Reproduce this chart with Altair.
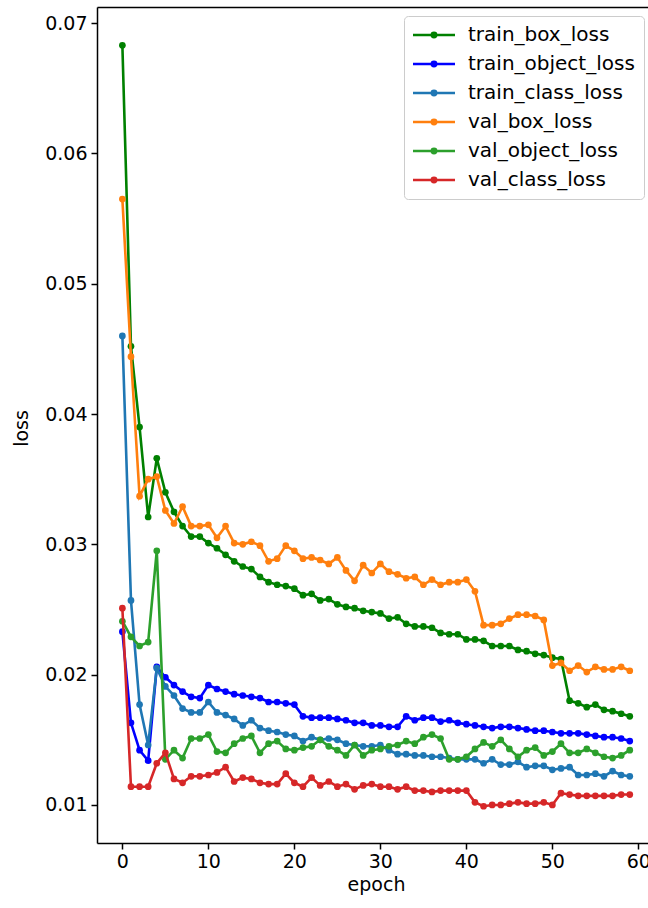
import altair as alt
import pandas as pd

epochs = list(range(60))

train_box_loss = [0.0683, 0.0452, 0.0390, 0.0321, 0.0366, 0.0340, 0.0325, 0.0314, 0.0306, 0.0306,
                  0.0301, 0.0297, 0.0292, 0.0287, 0.0283, 0.0281, 0.0275, 0.0271, 0.0269, 0.0268,
                  0.0266, 0.0261, 0.0262, 0.0257, 0.0258, 0.0254, 0.0252, 0.0251, 0.0249, 0.0248,
                  0.0247, 0.0243, 0.0244, 0.0239, 0.0237, 0.0237, 0.0236, 0.0232, 0.0231, 0.0231,
                  0.0227, 0.0227, 0.0226, 0.0222, 0.0222, 0.0222, 0.0219, 0.0218, 0.0216, 0.0215,
                  0.0213, 0.0212, 0.0180, 0.0178, 0.0175, 0.0177, 0.0173, 0.0172, 0.0170, 0.0168]

train_object_loss = [0.0233, 0.0163, 0.0142, 0.0134, 0.0206, 0.0198, 0.0192, 0.0187, 0.0183, 0.0182,
                     0.0192, 0.0189, 0.0187, 0.0185, 0.0184, 0.0183, 0.0182, 0.0179, 0.0179, 0.0178,
                     0.0177, 0.0168, 0.0167, 0.0167, 0.0167, 0.0166, 0.0165, 0.0163, 0.0163, 0.0161,
                     0.0161, 0.0160, 0.0160, 0.0168, 0.0165, 0.0167, 0.0167, 0.0164, 0.0165, 0.0163,
                     0.0162, 0.0161, 0.0160, 0.0159, 0.0160, 0.0160, 0.0159, 0.0158, 0.0157, 0.0157,
                     0.0156, 0.0155, 0.0155, 0.0155, 0.0154, 0.0153, 0.0152, 0.0152, 0.0151, 0.0149]

train_class_loss = [0.0460, 0.0257, 0.0177, 0.0146, 0.0205, 0.0191, 0.0184, 0.0174, 0.0171, 0.0171,
                    0.0179, 0.0171, 0.0169, 0.0166, 0.0161, 0.0165, 0.0159, 0.0157, 0.0156, 0.0154,
                    0.0153, 0.0149, 0.0152, 0.0150, 0.0151, 0.0150, 0.0147, 0.0146, 0.0145, 0.0145,
                    0.0146, 0.0142, 0.0139, 0.0139, 0.0138, 0.0138, 0.0137, 0.0137, 0.0136, 0.0135,
                    0.0135, 0.0135, 0.0132, 0.0135, 0.0131, 0.0131, 0.0133, 0.0129, 0.0130, 0.0130,
                    0.0127, 0.0128, 0.0129, 0.0123, 0.0123, 0.0124, 0.0122, 0.0126, 0.0123, 0.0122]

val_box_loss = [0.0565, 0.0444, 0.0337, 0.0350, 0.0352, 0.0326, 0.0316, 0.0329, 0.0314, 0.0314,
                0.0315, 0.0305, 0.0314, 0.0301, 0.0300, 0.0302, 0.0299, 0.0287, 0.0289, 0.0299,
                0.0295, 0.0289, 0.0290, 0.0288, 0.0285, 0.0290, 0.0280, 0.0272, 0.0284, 0.0278,
                0.0285, 0.0279, 0.0277, 0.0274, 0.0275, 0.0269, 0.0273, 0.0269, 0.0271, 0.0271,
                0.0273, 0.0264, 0.0238, 0.0238, 0.0239, 0.0243, 0.0246, 0.0246, 0.0245, 0.0242,
                0.0207, 0.0209, 0.0203, 0.0207, 0.0202, 0.0206, 0.0204, 0.0204, 0.0206, 0.0203]

val_object_loss = [0.0241, 0.0229, 0.0222, 0.0225, 0.0295, 0.0135, 0.0142, 0.0136, 0.0151, 0.0151,
                   0.0154, 0.0141, 0.0140, 0.0147, 0.0151, 0.0153, 0.0140, 0.0147, 0.0149, 0.0143,
                   0.0142, 0.0144, 0.0145, 0.0150, 0.0145, 0.0142, 0.0138, 0.0146, 0.0138, 0.0142,
                   0.0143, 0.0145, 0.0146, 0.0149, 0.0147, 0.0152, 0.0154, 0.0151, 0.0135, 0.0135,
                   0.0137, 0.0143, 0.0148, 0.0145, 0.0150, 0.0143, 0.0137, 0.0142, 0.0144, 0.0138,
                   0.0141, 0.0147, 0.0140, 0.0140, 0.0143, 0.0140, 0.0137, 0.0136, 0.0138, 0.0142]

val_class_loss = [0.0251, 0.0114, 0.0114, 0.0114, 0.0132, 0.0140, 0.0120, 0.0117, 0.0122, 0.0122,
                  0.0123, 0.0125, 0.0129, 0.0118, 0.0121, 0.0120, 0.0117, 0.0116, 0.0116, 0.0124,
                  0.0117, 0.0114, 0.0121, 0.0115, 0.0118, 0.0114, 0.0116, 0.0112, 0.0115, 0.0116,
                  0.0114, 0.0114, 0.0112, 0.0114, 0.0111, 0.0111, 0.0110, 0.0111, 0.0111, 0.0111,
                  0.0111, 0.0102, 0.0099, 0.0100, 0.0100, 0.0101, 0.0102, 0.0101, 0.0101, 0.0102,
                  0.0100, 0.0109, 0.0108, 0.0107, 0.0107, 0.0107, 0.0107, 0.0107, 0.0108, 0.0108]

series_names = ["train_box_loss", "train_object_loss", "train_class_loss",
                "val_box_loss", "val_object_loss", "val_class_loss"]
series_colors = ["#008000", "#0000ff", "#1f77b4", "#ff7f0e", "#2ca02c", "#d62728"]
series_values = [train_box_loss, train_object_loss, train_class_loss,
                 val_box_loss, val_object_loss, val_class_loss]

x_ticks = [0, 10, 20, 30, 40, 50, 60]
y_ticks = [0.01, 0.02, 0.03, 0.04, 0.05, 0.06, 0.07]

rows = []
for name, vals in zip(series_names, series_values):
    for e, v in zip(epochs, vals):
        rows.append({"epoch": e, "loss": v, "series": name})
df = pd.DataFrame(rows)

FONT = "DejaVu Sans"

xscale = alt.Scale(domain=[-2.95, 61.12], nice=False, zero=False)
yscale = alt.Scale(domain=[0.00708, 0.07124], nice=False, zero=False)

xaxis = alt.Axis(values=x_ticks, format="d", grid=False, title="epoch",
                 titleX=279, titleY=47, titleBaseline="alphabetic", titleAlign="center",
                 labelPadding=3, tickSize=6)
yaxis = alt.Axis(values=y_ticks, format=".2f", grid=False, title="loss",
                 titleX=-70, titleY=421, titleAngle=-90, titleBaseline="alphabetic",
                 titleAlign="center", labelPadding=4, tickSize=6)

# legend handle: a short line with a dot, drawn as one path (unit = 8 px)
legend_path = ("M-1.25,0L4,0"
               "M1.655,0A0.28,0.28,0,1,1,1.095,0A0.28,0.28,0,1,1,1.655,0"
               "M1.47,0A0.095,0.095,0,1,1,1.28,0A0.095,0.095,0,1,1,1.47,0")

legend = alt.Legend(title=None, orient="none", legendX=307, legendY=9,
                    symbolType=legend_path, symbolSize=256, symbolStrokeWidth=2.5,
                    labelFont=FONT, labelFontSize=20, labelColor="black", labelLimit=400,
                    labelOffset=35, padding=9, rowPadding=9,
                    strokeColor="#cccccc", fillColor="rgba(255,255,255,0.8)",
                    cornerRadius=4)

color = alt.Color("series:N", scale=alt.Scale(domain=series_names, range=series_colors),
                  legend=legend)

layers = []
for name in series_names:
    layers.append(
        alt.Chart(df)
        .transform_filter(alt.datum.series == name)
        .mark_line(strokeWidth=2.6, point=alt.OverlayMarkDef(filled=True, size=45, opacity=1))
        .encode(
            x=alt.X("epoch:Q", scale=xscale, axis=xaxis),
            y=alt.Y("loss:Q", scale=yscale, axis=yaxis),
            color=color,
        )
    )
lines = alt.layer(*layers)

frame = (
    alt.Chart(df)
    .transform_filter(alt.datum.series == series_names[0])
    .mark_line(opacity=0)
    .encode(
        x=alt.X("epoch:Q", scale=xscale,
                axis=alt.Axis(orient="top", labels=False, ticks=False, title=None, grid=False)),
        y=alt.Y("loss:Q", scale=yscale, axis=yaxis),
    )
)

chart = (
    alt.layer(lines, frame)
    .resolve_axis(x="independent")
    .properties(width=551, height=836,
                autosize=alt.AutoSizeParams(type="none"),
                padding={"left": 97, "top": 7, "right": 0, "bottom": 65})
    .configure_view(stroke=None)
    .configure_axis(domainColor="black", domainWidth=1.5, tickColor="black", tickWidth=1.5,
                    labelFont=FONT, labelFontSize=19, labelColor="black",
                    titleFont=FONT, titleFontSize=19, titleColor="black", titleFontWeight="normal")
)

chart.save("out.html", embed_options={"renderer": "svg", "actions": False})
